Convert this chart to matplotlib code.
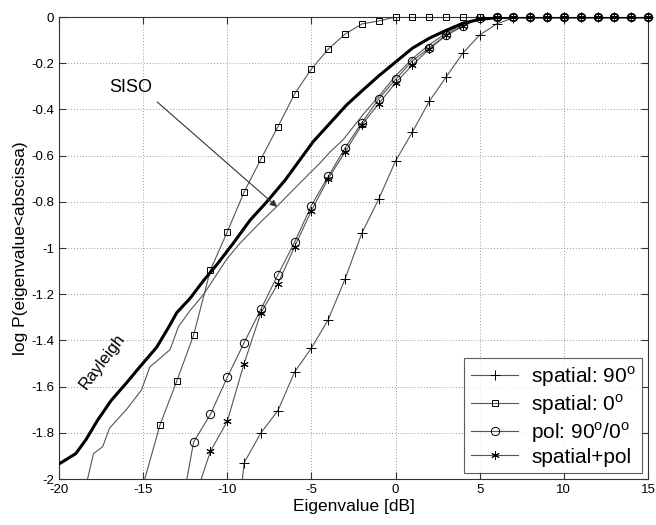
import matplotlib
matplotlib.use("Agg")
import matplotlib.pyplot as plt
from matplotlib.lines import Line2D
import numpy as np

plt.rcParams['font.family'] = ['Liberation Sans', 'DejaVu Sans']
plt.rcParams['mathtext.fontset'] = 'custom'
plt.rcParams['mathtext.rm'] = 'Liberation Sans'

# spatial: 90 deg (plus markers)
sp90_x = [-9.1, -9, -8, -7, -6, -5, -4, -3, -2, -1, 0, 1, 2, 3, 4, 5, 6, 7, 8, 9, 10, 11, 12, 13, 14, 15]
sp90_y = [-2.0, -1.93, -1.80, -1.705, -1.537, -1.433, -1.31, -1.134, -0.935, -0.788, -0.623, -0.498,
          -0.365, -0.26, -0.156, -0.078, -0.03, -0.003, 0, 0, 0, 0, 0, 0, 0, 0]

# spatial: 0 deg (squares)
sp0_x = [-14.9, -14, -13, -12, -11, -10, -9, -8, -7, -6, -5, -4, -3, -2, -1, 0,
         1, 2, 3, 4, 5, 6, 7, 8, 9, 10, 11, 12, 13, 14, 15]
sp0_y = [-2.0, -1.766, -1.576, -1.377, -1.095, -0.93, -0.758, -0.615, -0.476, -0.333, -0.225, -0.139,
         -0.074, -0.03, -0.017, 0, 0, 0, 0, 0, 0, 0, 0, 0, 0, 0, 0, 0, 0, 0, 0]

# pol: 90/0 (circles)
pol_x = [-12.4, -12, -11, -10, -9, -8, -7, -6, -5, -4, -3, -2, -1, 0, 1, 2, 3, 4, 5,
         6, 7, 8, 9, 10, 11, 12, 13, 14, 15]
pol_y = [-2.0, -1.84, -1.72, -1.56, -1.41, -1.265, -1.117, -0.975, -0.816, -0.69, -0.567, -0.457,
         -0.355, -0.27, -0.19, -0.134, -0.078, -0.039, -0.005, 0, 0, 0, 0, 0, 0, 0, 0, 0, 0]

# spatial+pol (asterisks)
spp_x = [-11.55, -11, -10, -9, -8, -7, -6, -5, -4, -3, -2, -1, 0, 1, 2, 3, 4, 5,
         6, 7, 8, 9, 10, 11, 12, 13, 14, 15]
spp_y = [-2.0, -1.88, -1.75, -1.50, -1.28, -1.156, -0.995, -0.838, -0.70, -0.584, -0.467, -0.375,
         -0.285, -0.208, -0.139, -0.08, -0.04, -0.005, 0, 0, 0, 0, 0, 0, 0, 0, 0, 0]

# Rayleigh (thick)
ray_x = [-20, -19, -18.4, -17.7, -16.9, -16, -15.2, -14.2, -13.5, -13, -12.2, -11.4, -10.6, -9.65,
         -8.65, -7.65, -6.55, -4.9, -3.9, -2.9, -2, -1, 0, 1, 2, 3, 4, 5, 6, 7, 15]
ray_y = [-1.935, -1.89, -1.83, -1.745, -1.66, -1.585, -1.515, -1.43, -1.345, -1.28, -1.217, -1.14,
         -1.07, -0.98, -0.88, -0.80, -0.705, -0.54, -0.46, -0.38, -0.32, -0.255, -0.195, -0.135,
         -0.092, -0.058, -0.027, -0.01, -0.003, 0, 0]

# SISO (thin, no markers)
siso_x = [-18.3, -17.95, -17.4, -17, -16, -15.1, -14.6, -13.4, -12.9, -12.2, -11.4, -10, -9.25,
          -8.05, -7.05, -5.7, -4.5, -3.9, -3.1, -1.95, -0.9, 0, 1, 2, 3, 4, 5, 6, 15]
siso_y = [-2.0, -1.89, -1.86, -1.78, -1.70, -1.615, -1.515, -1.44, -1.34, -1.27, -1.2, -1.045,
          -0.98, -0.89, -0.82, -0.72, -0.633, -0.585, -0.53, -0.424, -0.335, -0.255, -0.18,
          -0.12, -0.07, -0.033, -0.01, 0, 0]

labels = ['spatial: 90$^\\mathrm{o}$', 'spatial: 0$^\\mathrm{o}$',
          'pol: 90$^\\mathrm{o}$/0$^\\mathrm{o}$', 'spatial+pol']

fig = plt.figure(figsize=(6.56, 5.25), dpi=100)
ax = fig.add_axes([0.0899, 0.0876, 0.8979, 0.88])

lc = '#555555'
curves = [(sp90_x, sp90_y, '+', 6.5), (sp0_x, sp0_y, 's', 5),
          (pol_x, pol_y, 'o', 6), (spp_x, spp_y, (6, 2, 0), 6)]
handles = []
for (cx, cy, m, ms), lab in zip(curves, labels):
    cx = np.array(cx)
    cy = np.array(cy)
    ax.plot(cx, cy, color=lc, lw=0.8)
    keep = (cx == np.round(cx)) & (cy >= -2)
    ax.plot(cx[keep], cy[keep], ls='none', marker=m, ms=ms, mfc='none',
            mec='black', mew=0.7, clip_on=False, zorder=4)
    handles.append(Line2D([], [], color=lc, lw=0.8, marker=m, ms=ms, mfc='none',
                          mec='black', mew=0.7))

ax.plot(ray_x, ray_y, color='black', lw=2.2, zorder=3)
ax.plot(siso_x, siso_y, color=lc, lw=0.8)

ax.annotate('', xy=(-7.04, -0.822), xytext=(-14.16, -0.368),
            arrowprops=dict(arrowstyle='-|>', color='#333333', lw=0.8,
                            mutation_scale=10, shrinkA=0, shrinkB=0))
ax.text(-15.76, -0.303, 'SISO', fontsize=13, ha='center', va='center')
ax.text(-17.42, -1.49, 'Rayleigh', fontsize=12, ha='center', va='center', rotation=53)

ax.set_xlim(-20, 15)
ax.set_ylim(-2, 0)
ax.set_xticks(np.arange(-20, 16, 5))
ax.set_yticks(np.arange(-2, 0.01, 0.2))
ax.set_yticklabels(['-2', '-1.8', '-1.6', '-1.4', '-1.2', '-1', '-0.8', '-0.6', '-0.4', '-0.2', '0'])
ax.set_xticklabels(['-20', '-15', '-10', '-5', '0', '5', '10', '15'])
ax.tick_params(direction='in', top=True, right=True, length=5, labelsize=9.5, colors='#333333',
               labelcolor='black')
ax.grid(True, color='#999999', ls=(0, (1, 2)), lw=0.7)
for s in ax.spines.values():
    s.set_color('#333333')

ax.set_xlabel('Eigenvalue [dB]', fontsize=12.5, labelpad=2)
ax.set_ylabel('log P(eigenvalue<abscissa)', fontsize=12.5, labelpad=2)

leg = ax.legend(handles, labels, loc='lower right', bbox_to_anchor=(0.99, 0.013),
                borderaxespad=0, fontsize=15, frameon=True, fancybox=False,
                labelspacing=0.15, handlelength=2.3, handletextpad=0.6, borderpad=0.3)
leg.get_frame().set_edgecolor('#333333')
leg.get_frame().set_linewidth(0.8)

fig.savefig('out.png', dpi=100)
